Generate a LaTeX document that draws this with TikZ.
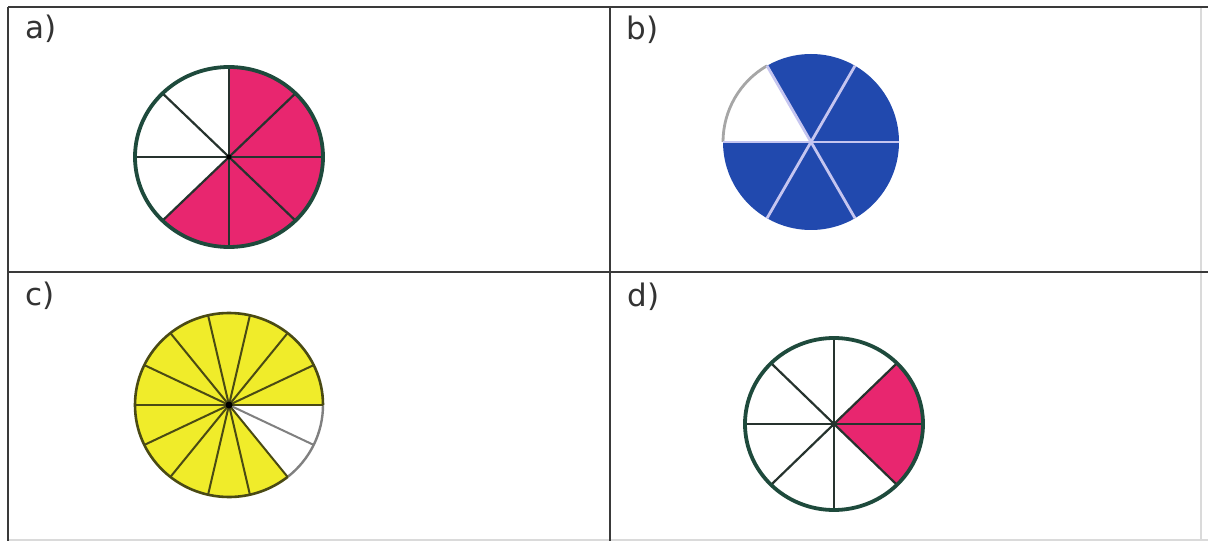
\documentclass[tikz,border=0pt]{standalone}
\usepackage{fontspec}
\setmainfont{DejaVu Sans}
\definecolor{pinkc}{HTML}{E8266F}
\definecolor{bluec}{HTML}{2149AE}
\definecolor{yellowc}{HTML}{F0EC2A}
\definecolor{rimgreen}{HTML}{1E4A3C}
\definecolor{spokegray}{HTML}{26332E}
\definecolor{lavender}{HTML}{C5C5F0}
\definecolor{olive}{HTML}{4A4A14}
\definecolor{labelgray}{HTML}{333333}
\definecolor{gridgray}{HTML}{3A3A3A}
\definecolor{faintgray}{HTML}{DADADA}
\begin{document}
\begin{tikzpicture}[x=0.5pt,y=0.5pt,
  lbl/.style={anchor=west, inner sep=0pt, font=\fontsize{15.5}{15.5}\selectfont, text=labelgray},
  gridline/.style={draw=gridgray, line width=1.3pt},
  faintline/.style={draw=faintgray, line width=0.8pt},
  rim/.style={draw=rimgreen, line width=1.9pt},
  spoke/.style={draw=spokegray, line width=1.1pt},
  bspoke/.style={draw=lavender, line width=1.4pt},
  cspoke/.style={draw=olive, line width=1pt},
  wspoke/.style={draw=gray, line width=1pt}]
\useasboundingbox (0,0) rectangle (1208,541);
\fill[white] (0,0) rectangle (1208,541);
% table
\coordinate (TL) at (8,534);
\coordinate (TR) at (1208,534);
\coordinate (BL) at (8,0);
\coordinate (ML) at (8,269);
\coordinate (MR) at (1208,269);
\coordinate (MT) at (610,534);
\coordinate (MB) at (610,0);
\coordinate (BBL) at (8,1);
\coordinate (BBR) at (1208,1);
\coordinate (RT) at (1201,534);
\coordinate (RB) at (1201,1);
\draw[faintline] (BBL) -- (BBR);
\draw[faintline] (RT) -- (RB);
\draw[gridline] (TL) -- (TR);
\draw[gridline] (TL) -- (BL);
\draw[gridline] (ML) -- (MR);
\draw[gridline] (MT) -- (MB);
% labels
\node[lbl] (la) at (25,512) {a)};
\node[lbl] (lb) at (626,511) {b)};
\node[lbl] (lc) at (25,245) {c)};
\node[lbl] (ld) at (627,244) {d)};
% pie a : 5/8
\coordinate (A) at (229,384);
\fill[pinkc] (A) -- ++(-135:94 and 90) arc[start angle=-135, end angle=90, x radius=94, y radius=90] -- cycle;
\foreach \a in {0,45,...,315} \draw[spoke] (A) -- ++(\a:94 and 90);
\draw[rim] (A) ellipse [x radius=94, y radius=90];
\fill[black] (A) circle (2.5);
% pie b : 5/6
\coordinate (B) at (811,399);
\fill[bluec] (B) circle (88);
\fill[white] (B) -- ++(120:88) arc[start angle=120, end angle=180, radius=88] -- cycle;
\draw[draw=gray!70, line width=1.4pt] (B) ++(120:88) arc[start angle=120, end angle=180, radius=88];
\foreach \a in {0,60,...,300} \draw[bspoke] (B) -- ++(\a:88);
% pie c : 12/14
\coordinate (C) at (229,136);
\fill[yellowc] (C) -- ++(0:94 and 92) arc[start angle=0, end angle=308.571, x radius=94, y radius=92] -- cycle;
\draw[wspoke] (C) -- ++(-25.714:94 and 92);
\draw[draw=gray, line width=1.2pt] (C) ++(-51.429:94 and 92) arc[start angle=-51.429, end angle=0, x radius=94, y radius=92];
\foreach \k in {0,1,...,12} \draw[cspoke] (C) -- ++({\k*360/14}:94 and 92);
\draw[draw=olive, line width=1.3pt] (C) ++(0:94 and 92) arc[start angle=0, end angle=308.571, x radius=94, y radius=92];
\fill[black] (C) circle (3.5);
% pie d : 2/8
\coordinate (D) at (834,117);
\fill[pinkc] (D) -- ++(-45:89 and 86) arc[start angle=-45, end angle=45, x radius=89, y radius=86] -- cycle;
\foreach \a in {0,45,...,315} \draw[spoke] (D) -- ++(\a:89 and 86);
\draw[rim] (D) ellipse [x radius=89, y radius=86];
\end{tikzpicture}
\end{document}
